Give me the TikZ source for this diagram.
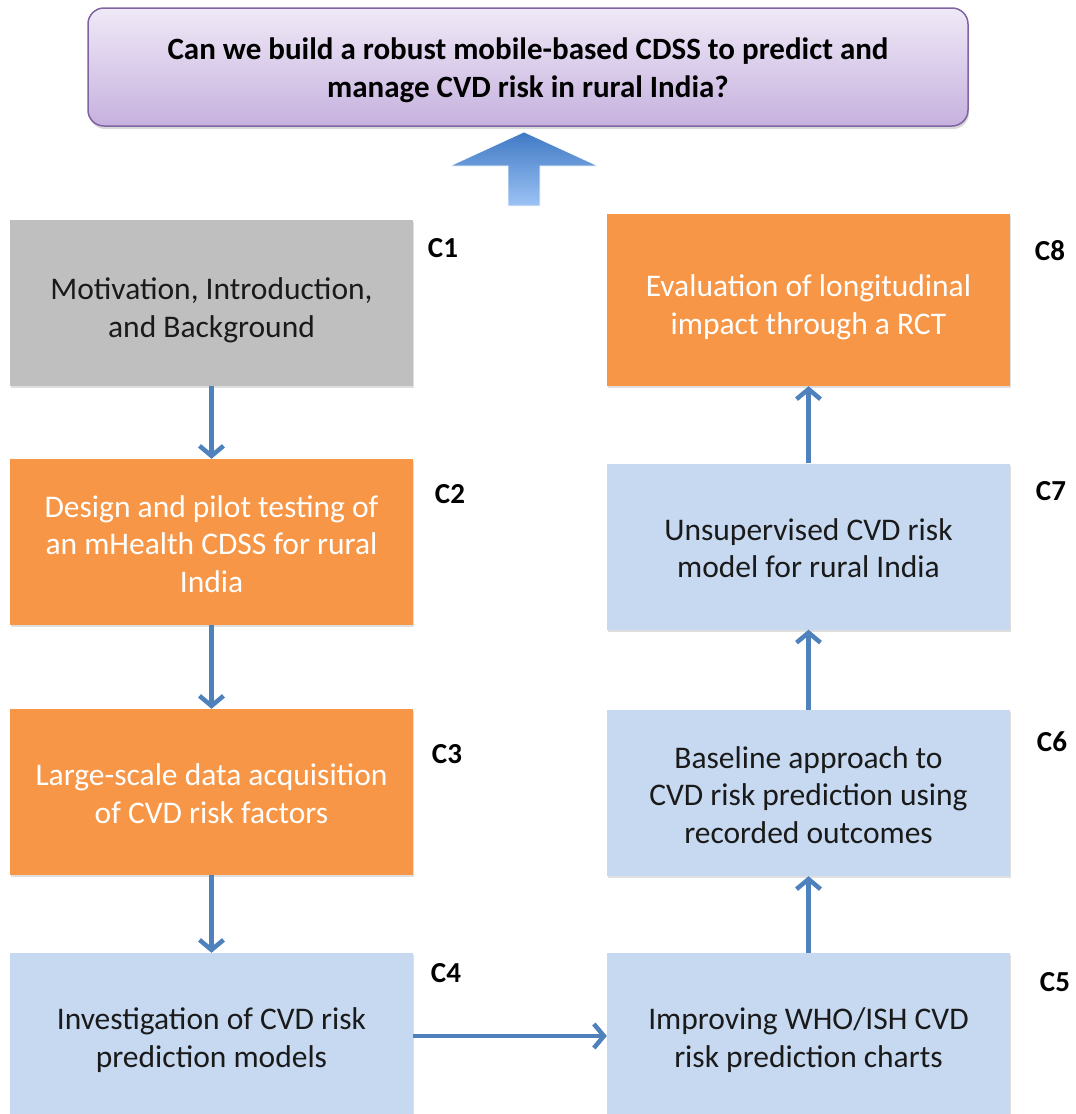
\documentclass[tikz,border=0pt]{standalone}
\usepackage{fontspec}
\setmainfont{Carlito}
\usetikzlibrary{arrows.meta,shadows,shapes.misc}

\definecolor{qfill1}{HTML}{EFE9F7}
\definecolor{qfill2}{HTML}{C6B1DE}
\definecolor{qline}{HTML}{8064A2}
\definecolor{greyfill}{HTML}{BFBFBF}
\definecolor{orangefill}{HTML}{F79646}
\definecolor{bluefill}{HTML}{C6D9F1}
\definecolor{arrowblue}{HTML}{4F81BD}
\definecolor{bigtop}{HTML}{3F79C4}
\definecolor{bigbot}{HTML}{9DC3F5}
\definecolor{textdark}{HTML}{1A1A1A}

% centred lines of text, set a little below the middle of their box
\newcommand{\boxlines}[2][5pt]{\raisebox{0pt}[\dimexpr\height+2\dimexpr#1\relax\relax][\depth]{\begin{tabular}{@{}c@{}}#2\end{tabular}}}

\tikzset{
  chapter/.style={rectangle, minimum width=403pt, minimum height=166pt,
    inner sep=0pt, align=center, font=\fontsize{31.5}{37.5}\selectfont,
    drop shadow={opacity=0.25, shadow xshift=1pt, shadow yshift=-2pt}},
  greybox/.style={chapter, fill=greyfill, text=textdark},
  orangebox/.style={chapter, fill=orangefill, text=white},
  bluebox/.style={chapter, fill=bluefill, text=textdark},
  tag/.style={font=\bfseries\fontsize{29}{30}\selectfont, text=black, inner sep=0pt},
  flow/.style={draw=arrowblue, line width=4.5pt,
    -{Straight Barb[length=10pt, width=24pt, line width=4.5pt]}},
}

\begin{document}
\begin{tikzpicture}[x=1pt, y=-1pt]
\useasboundingbox (0,0) rectangle (1076,1114);
\clip (0,0) rectangle (1076,1114);

% research question
\node (question) [rounded corners=16pt, draw=qline, line width=1.5pt,
  top color=qfill1, bottom color=qfill2,
  minimum width=880pt, minimum height=118pt, align=center,
  font=\bfseries\fontsize{31}{38}\selectfont,
  drop shadow={opacity=0.3, shadow xshift=1pt, shadow yshift=-3pt}]
  at (528,67) {\boxlines[4pt]{Can we build a robust mobile-based CDSS to predict and\\manage CVD risk in rural India?}};

% block arrow pointing at the question
\path [top color=bigtop, bottom color=bigbot, draw=white, line width=0.6pt]
  (524,132) -- (598,166) -- (540,166) -- (540,206) -- (508,206) -- (508,166) -- (450,166) -- cycle;

% chapters
\node (c1) [greybox]   at (211.5,303) {\boxlines[8pt]{Motivation, Introduction,\\and Background}};
\node (c2) [orangebox] at (211.5,542) {\boxlines{Design and pilot testing of\\an mHealth CDSS for rural\\India}};
\node (c3) [orangebox] at (211.5,792) {\boxlines{Large-scale data acquisition\\of CVD risk factors}};
\node (c4) [bluebox]   at (211.5,1036) {\boxlines{Investigation of CVD risk\\prediction models}};
\node (c5) [bluebox]   at (808.5,1036) {\boxlines{Improving WHO/ISH CVD\\risk prediction charts}};
\node (c6) [bluebox]   at (808.5,793) {\boxlines{Baseline approach to\\CVD risk prediction using\\recorded outcomes}};
\node (c7) [bluebox]   at (808.5,546.5) {\boxlines{Unsupervised CVD risk\\model for rural India}};
\node (c8) [orangebox, minimum height=172pt] at (808.5,300) {\boxlines[8pt]{Evaluation of longitudinal\\impact through a RCT}};

% chapter numbers
\node (t1) [tag] at (443,248) {C1};
\node (t2) [tag] at (450,494) {C2};
\node (t3) [tag] at (447,754) {C3};
\node (t4) [tag] at (446,973) {C4};
\node (t5) [tag] at (1055,982) {C5};
\node (t6) [tag] at (1052,742) {C6};
\node (t7) [tag] at (1051,491) {C7};
\node (t8) [tag] at (1050,251) {C8};

% flow between chapters
\draw [flow] (c1) -- (c2);
\draw [flow] (c2) -- (c3);
\draw [flow] (c3) -- (c4);
\draw [flow] (c4) -- (c5);
\draw [flow] (c5) -- (c6);
\draw [flow] (c6) -- (c7);
\draw [flow] (c7) -- (c8);
\end{tikzpicture}
\end{document}
